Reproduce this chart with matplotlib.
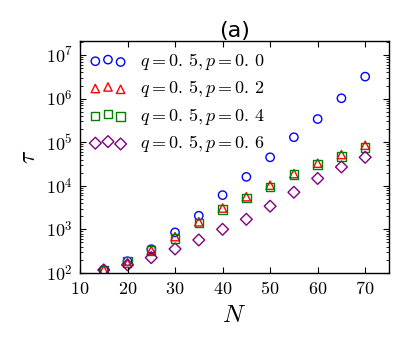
import matplotlib
matplotlib.use("Agg")
import matplotlib.pyplot as plt
from matplotlib.ticker import FuncFormatter, LogLocator
import numpy as np

plt.rcParams["mathtext.fontset"] = "cm"

# system sizes
n_vals = [15, 20, 25, 30, 35, 40, 45, 50, 55, 60, 65, 70]
# relaxation time for each p at q = 0.5
tau_p00 = [115, 185, 350, 850, 2050, 6100, 1.6e4, 4.5e4, 1.3e5, 3.4e5, 1.02e6, 3.2e6]
tau_p02 = [117, 166, 325, 680, 1490, 3080, 5600, 1.03e4, 1.9e4, 3.3e4, 5.2e4, 8.5e4]
tau_p04 = [117, 188, 325, 620, 1380, 2870, 5300, 9400, 1.8e4, 3.1e4, 4.7e4, 7.6e4]
tau_p06 = [117, 153, 224, 354, 570, 1000, 1700, 3400, 7100, 1.47e4, 2.7e4, 4.5e4]
labels = [r"$q=0.\,5, p=0.\,0$", r"$q=0.\,5, p=0.\,2$",
          r"$q=0.\,5, p=0.\,4$", r"$q=0.\,5, p=0.\,6$"]

fig = plt.figure(figsize=(4.06, 3.39), dpi=100)
ax = fig.add_axes([0.197, 0.195, 0.761, 0.684])

series = [
    (tau_p00, "o", "b"),
    (tau_p02, "^", "r"),
    (tau_p04, "s", "g"),
    (tau_p06, "D", "purple"),
]
for (tau, mk, col), lab in zip(series, labels):
    ax.scatter(n_vals, tau, marker=mk, s=36, facecolors="none",
               edgecolors=col, linewidths=1.0, label=lab)

ax.set_yscale("log")
ax.set_xlim(10, 75)
ax.set_ylim(1e2, 2.1e7)
ax.set_xticks([10, 20, 30, 40, 50, 60, 70])
ax.xaxis.set_major_formatter(FuncFormatter(lambda x, pos: r"$%d$" % x))
ax.yaxis.set_major_locator(LogLocator(base=10, numticks=10))
ax.yaxis.set_major_formatter(FuncFormatter(lambda y, pos: r"$10^{%d}$" % round(np.log10(y))))
ax.yaxis.set_minor_locator(LogLocator(base=10, subs=np.arange(2, 10), numticks=20))
ax.tick_params(which="both", direction="in", top=True, right=True, labelsize=13)
ax.tick_params(which="major", length=4, pad=5)
ax.tick_params(which="minor", length=2)
for sp in ax.spines.values():
    sp.set_linewidth(1.0)

ax.set_xlabel(r"$N$", fontsize=18)
ax.set_ylabel(r"$\tau$", fontsize=17)
ax.set_title("(a)", fontsize=16, pad=3)
ax.legend(loc="upper left", frameon=False, scatterpoints=3, fontsize=13,
          labelspacing=0.35, handletextpad=0.75, borderaxespad=0.15)

fig.savefig("out.png", dpi=100)
